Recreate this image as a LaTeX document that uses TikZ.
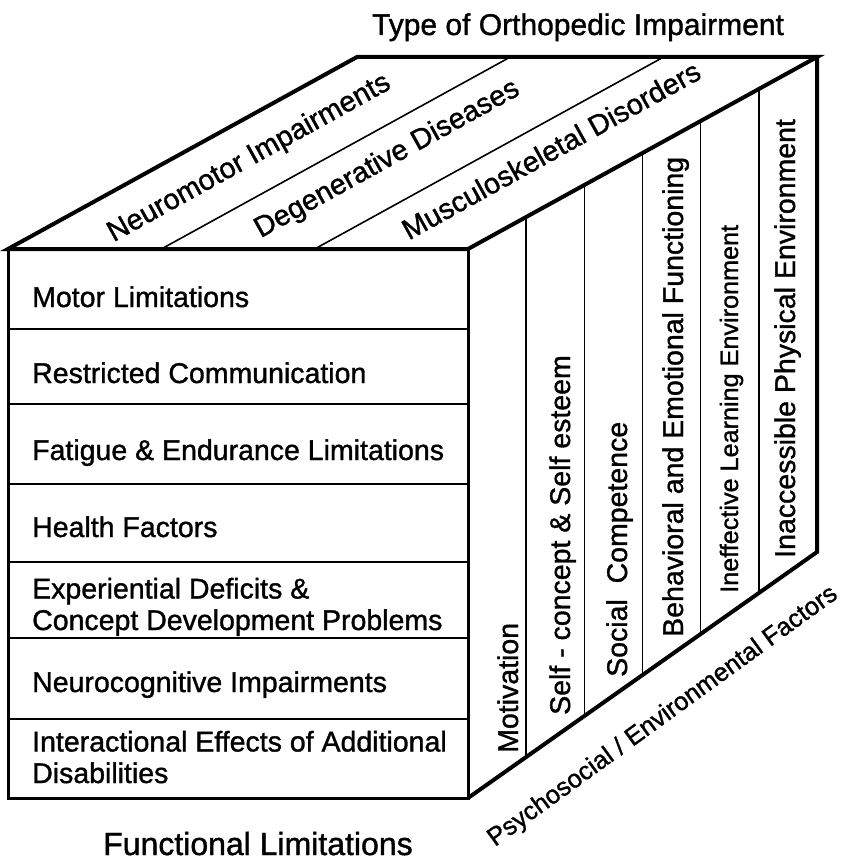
\documentclass[tikz,border=0pt]{standalone}
\usepackage{fontspec}
\setmainfont[FakeBold=1.2]{Liberation Sans}
\usetikzlibrary{calc}
\begin{document}
\begin{tikzpicture}[x=1pt,y=-1pt,
  outline/.style={line width=4pt, line join=miter},
  frontbox/.style={line width=3pt, line join=miter},
  thinline/.style={line width=1.6pt},
  lbl/.style={font=\fontsize{28.5}{31.5}\selectfont, inner sep=0pt, align=left},
  sidelbl/.style={font=\fontsize{28.5}{32}\selectfont, inner sep=0pt, rotate=90, anchor=base west},
  toplbl/.style={font=\fontsize{28.8}{32}\selectfont, inner sep=0pt, rotate=29, anchor=base},
  caption/.style={font=\fontsize{#1}{#1}\selectfont, inner sep=0pt, anchor=base}]
\useasboundingbox (0,0) rectangle (848,861);
% corners
\coordinate (FLT) at (8,249);
\coordinate (FRT) at (468,249);
\coordinate (FLB) at (8,798);
\coordinate (FRB) at (468,798);
\coordinate (BLT) at (357,57);
\coordinate (BRT) at (817,57);
\coordinate (BRB) at (817,552);
% front face rows
\foreach \y in {329,404,484,562,638,719}
  \draw[thinline] (8,\y) -- (468,\y);
% top face dividers
\draw[thinline] ($(FLT)!1/3!(FRT)$) -- ($(BLT)!1/3!(BRT)$);
\draw[thinline] ($(FLT)!2/3!(FRT)$) -- ($(BLT)!2/3!(BRT)$);
% right face dividers
\foreach \k in {1,...,5}
  \draw[thinline] ($(FRT)!\k/6!(BRT)$) -- ($(FRB)!\k/6!(BRB)$);
% outlines
\draw[frontbox] (FLT) rectangle (FRB);
\draw[outline] (FLT) -- (BLT) -- (BRT) -- (FRT) -- cycle;
\draw[outline] (BRT) -- (BRB) -- (FRB);
% front texts
\node[lbl, anchor=base west] (t1) at (32,307) {Motor Limitations};
\node[lbl, anchor=base west] (t2) at (32,383) {Restricted Communication};
\node[lbl, anchor=base west] (t3) at (32,460) {Fatigue \& Endurance Limitations};
\node[lbl, anchor=base west] (t4) at (32,537) {Health Factors};
\node[lbl, anchor=base west] (t5) at (32,630) {Experiential Deficits \&\\Concept Development Problems};
\node[lbl, anchor=base west] (t6) at (32,692) {Neurocognitive Impairments};
\node[lbl, anchor=base west] (t7) at (32,783) {Interactional Effects of Additional\\Disabilities};
% top texts
\node[toplbl] (n1) at (253,165) {Neuromotor Impairments};
\node[toplbl] (n2) at (391,166) {Degenerative Diseases};
\node[toplbl] (n3) at (556,159) {Musculoskeletal Disorders};
% side texts
\node[sidelbl] (s1) at (518,753) {Motivation};
\node[sidelbl] (s2) at (570,715) {Self - concept \& Self esteem};
\node[sidelbl] (s3) at (627,677) {Social\ \ Competence};
\node[sidelbl] (s4) at (683,637) {Behavioral and Emotional Functioning};
\node[sidelbl, font=\fontsize{25.2}{28}\selectfont] (s5) at (738,593) {Ineffective Learning Environment};
\node[sidelbl] (s6) at (795,558) {Inaccessible Physical Environment};
% captions
\node[caption=30] (title) at (578,35) {Type of Orthopedic Impairment};
\node[caption=32] (func) at (258,855) {Functional Limitations};
\node[caption=25.5, rotate=36] (psy) at (667,722) {Psychosocial / Environmental Factors};
\end{tikzpicture}
\end{document}
